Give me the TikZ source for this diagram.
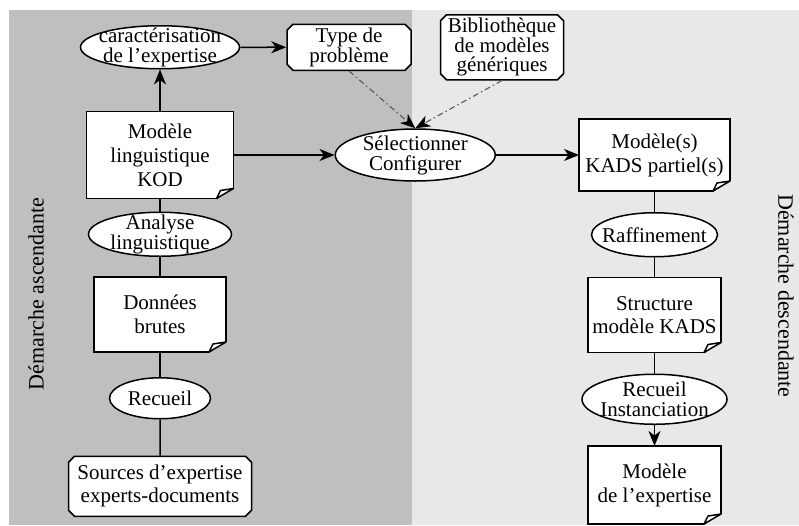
\documentclass[tikz,border=0pt]{standalone}
\usepackage{fontspec}
\setmainfont{Liberation Serif}
\usetikzlibrary{arrows.meta,positioning,shapes.geometric,shapes.misc}
\definecolor{ascgray}{gray}{0.75}
\definecolor{descgray}{gray}{0.91}

\begin{document}
\begin{tikzpicture}[x=1pt,y=1pt,font=\fontsize{21}{24}\selectfont,
proc/.style={ellipse,draw,line width=1.5pt,fill=white,inner sep=-40pt,align=center,font=\fontsize{21}{20}\selectfont},
doc/.style={rectangle,draw,line width=1.5pt,fill=white,inner sep=0pt,outer sep=0pt,align=center},
src/.style={chamfered rectangle,chamfered rectangle sep=3pt,draw,line width=1.5pt,fill=white,inner sep=0pt,align=center},
link/.style={line width=1.5pt},
arr/.style={-{Stealth[length=15pt,width=12pt,inset=4.5pt]},line width=1.5pt},
hint/.style={-{Stealth[length=15pt,width=12pt,inset=4.5pt,color=black]},dash pattern=on 6pt off 3pt on 1.5pt off 3pt,black!65,line width=1.1pt},
side/.style={font=\fontsize{22}{26}\selectfont}]
\useasboundingbox (0,0) rectangle (799,-525);
\fill[ascgray] (9,-10) rectangle (412,-525);
\fill[descgray] (412,-10) rectangle (799,-525);
\node[side,rotate=90] (asc) at (36,-294) {Démarche ascendante};
\node[side,rotate=-90] (desc) at (786,-296) {Démarche descendante};
% bottom-up column
\node[doc,minimum width=147pt,minimum height=87pt] (kod) at (160,-155) {Modèle\\linguistique\\KOD};
\node[proc,minimum width=159pt,minimum height=43pt,above=42pt of kod] (car) {caractérisation\\de l’expertise};
\node[src,minimum width=124pt,minimum height=46pt,right=46pt of car,font=\fontsize{21}{19}\selectfont] (typ) {Type de\\problème};
\node[src,minimum width=123pt,minimum height=65pt,right=28pt of typ,font=\fontsize{21}{19}\selectfont] (bib) {Bibliothèque\\de modèles\\génériques};
\node[proc,minimum width=143pt,minimum height=44pt,below=13pt of kod] (ana) {Analyse\\linguistique};
\node[doc,minimum width=132pt,minimum height=75pt,below=20pt of ana] (don) {Données\\brutes};
\node[proc,minimum width=101pt,minimum height=41pt,below=25pt of don] (rec) {Recueil};
\node[src,minimum width=183pt,minimum height=60pt,below=36pt of rec,font=\fontsize{21}{23}\selectfont] (srcs) {Sources d’expertise\\experts-documents};
% selection
\node[proc,minimum width=160pt,minimum height=52pt,right=101pt of kod] (sel) {Sélectionner\\Configurer};
% top-down column
\node[doc,minimum width=151pt,minimum height=72pt,right=83pt of sel] (mods) {Modèle(s)\\KADS partiel(s)};
\node[proc,minimum width=126pt,minimum height=44pt,below=21pt of mods] (raf) {Raffinement};
\node[doc,minimum width=133pt,minimum height=75pt,below=20pt of raf,font=\fontsize{21}{23}\selectfont] (str) {Structure\\modèle KADS};
\node[proc,minimum width=145pt,minimum height=50pt,below=21pt of str] (ins) {Recueil\\Instanciation};
\node[doc,minimum width=133pt,minimum height=78pt,below=21pt of ins] (mex) {Modèle\\de l’expertise};
% dog-eared corners
\foreach \n/\c in {kod/ascgray,don/ascgray,mods/descgray,str/descgray,mex/descgray}{
  \fill[fill=\c] ([shift={(-17pt,-1pt)}]\n.south east) -- ([shift={(1pt,-1pt)}]\n.south east) -- ([shift={(1pt,10pt)}]\n.south east) -- cycle;
  \draw[link,line join=round,fill=white] ([xshift=-17pt]\n.south east) -- ([yshift=10pt]\n.south east) -- ([shift={(-13pt,8pt)}]\n.south east) -- cycle;
}
\draw[arr] (kod) -- (car);
\draw[arr] (car) -- (typ);
\draw[arr] (kod) -- (sel);
\draw[hint] (typ.south) -- (sel.north);
\draw[hint] (bib.south) -- (sel.north);
\draw[arr] (sel) -- (mods);
\draw[link] (kod) -- (ana); \draw[link] (ana) -- (don);
\draw[link] (don) -- (rec); \draw[link] (rec) -- (srcs);
\draw[link] (mods) -- (raf); \draw[link] (raf) -- (str);
\draw[link] (str) -- (ins);
\draw[arr] (ins) -- (mex);
\end{tikzpicture}
\end{document}
